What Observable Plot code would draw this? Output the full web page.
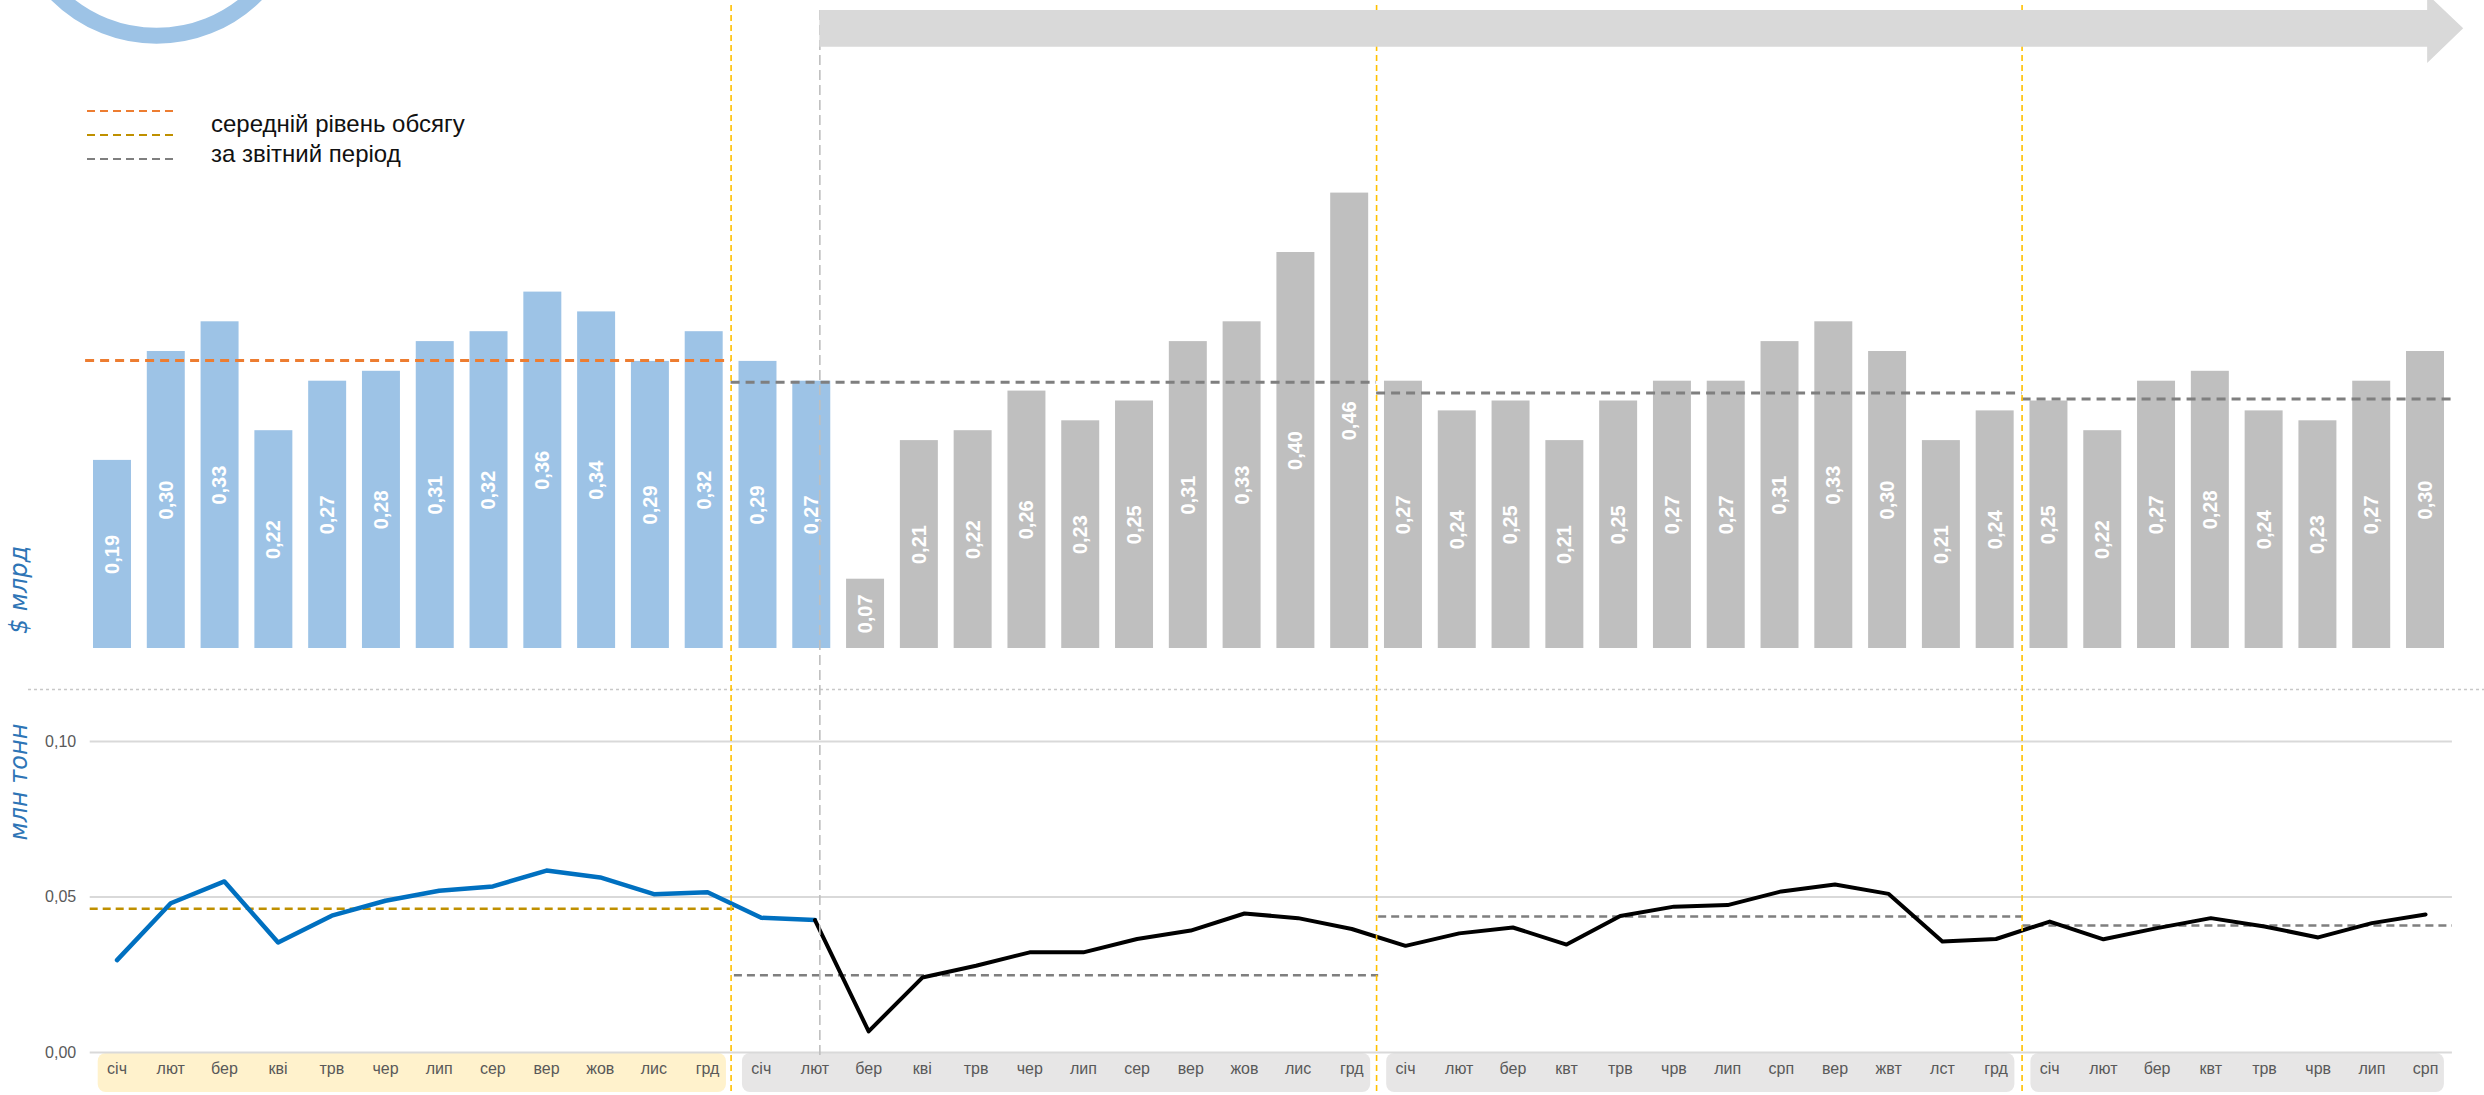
<!DOCTYPE html>
<html>
<head>
<meta charset="utf-8">
<script src="https://cdn.jsdelivr.net/npm/d3@7"></script>
<script src="https://cdn.jsdelivr.net/npm/@observablehq/plot@0.6"></script>
<style>
  body { margin: 0; background: #fff; }
  #wrap { position: relative; width: 2484px; height: 1095px; overflow: hidden; font-family: "Liberation Sans", Arial, sans-serif; background: #fff; }
  .layer { position: absolute; left: 0; }
  .ytitle { position: absolute; font-family: "DejaVu Sans", sans-serif; font-style: italic; font-size: 24px; color: #2E75B6; white-space: nowrap; transform: translate(-50%, -50%) rotate(-90deg); }
  .legtext { position: absolute; left: 211px; font-size: 24px; color: #111; white-space: nowrap; transform: translateY(-50%); }
</style>
</head>
<body>
<div id="wrap"></div>
<script>
// ---------- data ----------
const months = [
  "січ","лют","бер","кві","трв","чер","лип","сер","вер","жов","лис","грд",
  "січ","лют","бер","кві","трв","чер","лип","сер","вер","жов","лис","грд",
  "січ","лют","бер","квт","трв","чрв","лип","срп","вер","жвт","лст","грд",
  "січ","лют","бер","квт","трв","чрв","лип","срп"
];
// value, $ bn
const valueUsd = [
  0.19, 0.30, 0.33, 0.22, 0.27, 0.28, 0.31, 0.32, 0.36, 0.34, 0.29, 0.32,
  0.29, 0.27, 0.07, 0.21, 0.22, 0.26, 0.23, 0.25, 0.31, 0.33, 0.40, 0.46,
  0.27, 0.24, 0.25, 0.21, 0.25, 0.27, 0.27, 0.31, 0.33, 0.30, 0.21, 0.24,
  0.25, 0.22, 0.27, 0.28, 0.24, 0.23, 0.27, 0.30
];
// volume, mln tonnes
const volumeMt = [
  0.0297, 0.0480, 0.0550, 0.0354, 0.0440, 0.0488, 0.0520, 0.0534, 0.0585, 0.0563, 0.0509, 0.0515,
  0.0433, 0.0426, 0.0068, 0.0241, 0.0279, 0.0322, 0.0322, 0.0365, 0.0392, 0.0447, 0.0432, 0.0397,
  0.0343, 0.0383, 0.0402, 0.0347, 0.0439, 0.0469, 0.0474, 0.0518, 0.0540, 0.0510, 0.0357, 0.0365,
  0.0421, 0.0364, 0.0400, 0.0432, 0.0405, 0.0370, 0.0416, 0.0444
];
const periodStart = [0, 12, 24, 36];
const periodEnd = [11, 23, 35, 43];
const avgUsd = [0.291, 0.269, 0.258, 0.252];
const avgVolume = [0.0462, 0.0248, 0.0437, 0.0408];
const lastBlueIndex = 13;
const eventIndex = 13.15;
const volumeTicks = [0, 0.05, 0.10];
const legendLines = ["середній рівень обсягу", "за звітний період"];

// ---------- helpers ----------
const fmt = v => v.toFixed(2).replace(".", ",");
const bars = valueUsd.map((v, i) => ({i, v}));
const vols = volumeMt.map((v, i) => ({i, v}));
const periods = periodStart.map((s, k) => ({k, s, e: periodEnd[k], usd: avgUsd[k], vol: avgVolume[k]}));
const BLUE_BAR = "#9DC3E6", GREY_BAR = "#BFBFBF";
const half = 0.353;
const baseStyle = {background: "transparent", overflow: "visible", maxWidth: "none", fontFamily: "'Liberation Sans', Arial, sans-serif"};

const wrap = document.getElementById("wrap");
function place(el, y) {
  const d = document.createElement("div");
  d.className = "layer";
  d.style.top = y + "px";
  d.appendChild(el);
  wrap.appendChild(d);
  return d;
}

// ---------- top: value bars ----------
const topChart = Plot.plot({
  width: 2484, height: 689,
  marginLeft: 85.1, marginRight: 32.1, marginTop: 0, marginBottom: 0,
  style: baseStyle,
  x: {type: "linear", domain: [-0.5, 43.5], axis: null},
  y: {domain: [0, 0.5], range: [648, 153], axis: null},
  marks: [
    Plot.rectY(bars, {x1: d => d.i - half, x2: d => d.i + half, y1: 0, y2: "v",
      fill: d => d.i <= lastBlueIndex ? BLUE_BAR : GREY_BAR}),
    Plot.text(bars, {x: "i", y: d => d.v / 2, text: d => fmt(d.v), rotate: -90,
      fill: "white", fontWeight: "bold", fontSize: 20}),
    Plot.ruleY(periods, {y: "usd", x1: d => d.s - 0.5, x2: d => d.e + 0.5,
      stroke: d => d.k === 0 ? "#ED7D31" : "#7F7F7F", strokeWidth: 3, strokeDasharray: "9,6"})
  ]
});
place(topChart, 0);

// ---------- bottom: volume line ----------
const bottomChart = Plot.plot({
  width: 2484, height: 406,
  marginLeft: 89.7, marginRight: 32.1, marginTop: 0, marginBottom: 3,
  style: baseStyle,
  x: {type: "linear", domain: [-0.5, 43.5], axis: null},
  y: {domain: [0, 0.1], range: [363, 52], axis: null},
  marks: [
    Plot.rect(periods, {x1: d => d.s - 0.5, x2: d => d.e + 0.5, insetLeft: 8, insetRight: 8, insetTop: 364,
      fill: d => d.k === 0 ? "#FFF2CC" : "#E7E6E6", rx: 8}),
    Plot.ruleY(volumeTicks, {stroke: "#D9D9D9", strokeWidth: 2}),
    Plot.axisY({ticks: volumeTicks, tickFormat: fmt, tickSize: 0, tickPadding: 14, fontSize: 16, fill: "#595959", label: null}),
    Plot.ruleY(periods, {y: "vol", x1: d => d.s - 0.5, x2: d => d.e + 0.5,
      stroke: d => d.k === 0 ? "#BF9000" : "#7F7F7F", strokeWidth: 2.5, strokeDasharray: "8,5"}),
    Plot.line(vols.filter(d => d.i <= lastBlueIndex), {x: "i", y: "v", stroke: "#0070C0", strokeWidth: 4.5, strokeLinejoin: "round"}),
    Plot.line(vols.filter(d => d.i >= lastBlueIndex), {x: "i", y: "v", stroke: "#000", strokeWidth: 4, strokeLinejoin: "round"}),
    Plot.text(months, {x: (d, i) => i, text: d => d, frameAnchor: "bottom", dy: -19, fontSize: 16, fill: "#595959"})
  ]
});
place(bottomChart, 689);

// ---------- overlay: separators, period lines, arrow, ring ----------
const lastIdx = valueUsd.length - 1;
const arrowPts = [
  {x: eventIndex, y1: 10, y2: 46.7},
  {x: lastIdx + 0.04, y1: 10, y2: 46.7},
  {x: lastIdx + 0.04, y1: -6, y2: 63},
  {x: lastIdx + 0.71, y1: 28.3, y2: 28.3}
];
const overlayChart = Plot.plot({
  width: 2484, height: 1095,
  marginLeft: 28, marginRight: 0, marginTop: 0, marginBottom: 0,
  style: baseStyle,
  x: {type: "linear", domain: [-0.5, 43.5], range: [85.1, 2451.9], axis: null},
  y: {domain: [0, 1095], range: [0, 1095], axis: null},
  marks: [
    Plot.ruleY([689], {stroke: "#C8C8C8", strokeWidth: 1.5, strokeDasharray: "3,3"}),
    Plot.ruleX(periodStart.slice(1).map(s => s - 0.5), {y1: 5, y2: 1095, stroke: "#FFC000", strokeWidth: 1.6, strokeDasharray: "6,4"}),
    Plot.ruleX([eventIndex], {y1: 10, y2: 1060, stroke: "#BFBFBF", strokeWidth: 1.6, strokeDasharray: "10,5"}),
    Plot.area(arrowPts, {x1: "x", y1: "y1", y2: "y2", fill: "#D9D9D9"}),
    Plot.dot([{x: 0.818, y: -105.5}], {x: "x", y: "y", r: 140.8, stroke: BLUE_BAR, strokeWidth: 16, fill: "none"})
  ]
});
const ov = place(overlayChart, 0);
ov.style.pointerEvents = "none";

// ---------- legend ----------
const legendColors = ["#ED7D31", "#BF9000", "#7F7F7F"];
const legendY = [111, 135, 159];
const ns = "http://www.w3.org/2000/svg";
const lsvg = document.createElementNS(ns, "svg");
lsvg.setAttribute("width", 200); lsvg.setAttribute("height", 200);
lsvg.style.position = "absolute"; lsvg.style.left = "0px"; lsvg.style.top = "0px";
legendColors.forEach((c, k) => {
  const l = document.createElementNS(ns, "line");
  l.setAttribute("x1", 87); l.setAttribute("x2", 175);
  l.setAttribute("y1", legendY[k]); l.setAttribute("y2", legendY[k]);
  l.setAttribute("stroke", c); l.setAttribute("stroke-width", 2);
  l.setAttribute("stroke-dasharray", "8,5");
  lsvg.appendChild(l);
});
wrap.appendChild(lsvg);
legendLines.forEach((t, k) => {
  const d = document.createElement("div");
  d.className = "legtext";
  d.style.top = (123.5 + k * 30.2) + "px";
  d.textContent = t;
  wrap.appendChild(d);
});

// ---------- axis titles ----------
[["$ млрд", 590], ["млн тонн", 782]].forEach(([t, y]) => {
  const d = document.createElement("div");
  d.className = "ytitle";
  d.style.left = "19px";
  d.style.top = y + "px";
  d.textContent = t;
  wrap.appendChild(d);
});
</script>
</body>
</html>
